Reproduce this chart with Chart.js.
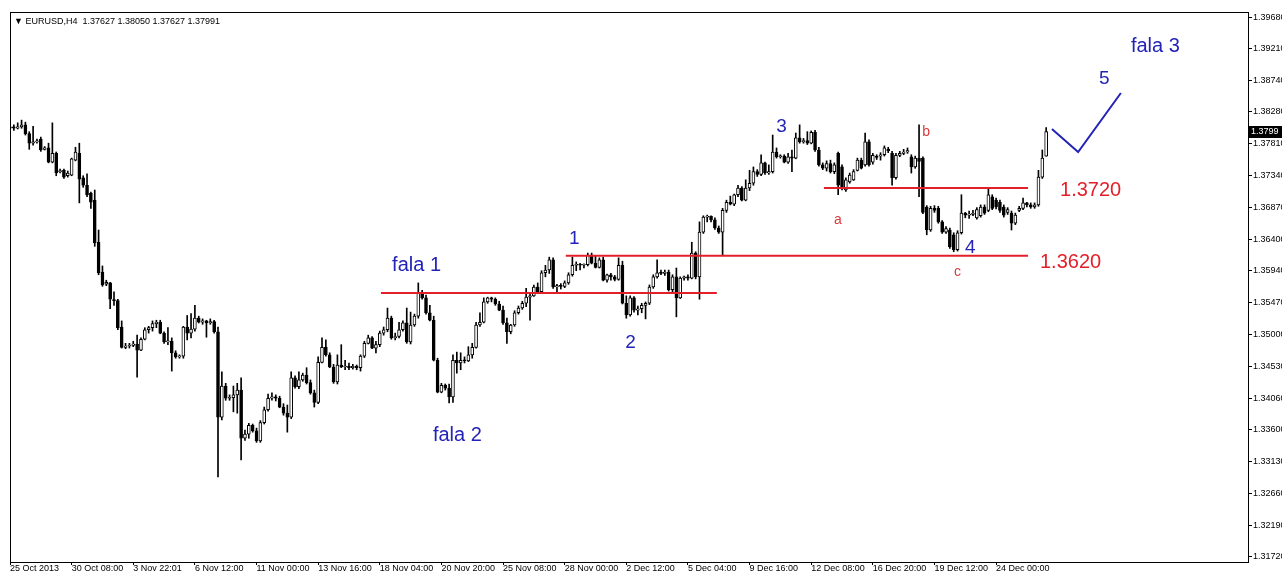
<!DOCTYPE html>
<html>
<head>
<meta charset="utf-8">
<script src="https://cdn.jsdelivr.net/npm/chart.js@4.4.1/dist/chart.umd.min.js"></script>
<style>
  html, body { margin: 0; padding: 0; background: #fff; overflow: hidden; }
  #wrap { width: 1282px; height: 573px; }
</style>
</head>
<body>
<div id="wrap"><canvas id="grafico" width="1282" height="573"></canvas></div>
<script>
// EURUSD H4, 25 Oct - 24 Dec 2013
const opens = [
  1.3804,1.3806,1.3804,1.3806,1.3809,1.3796,1.3782,1.3784,1.3788,1.3773,
  1.3775,1.3754,1.3767,1.3740,1.3742,1.3734,1.3735,1.3757,1.3767,1.3731,
  1.3720,1.3708,1.3698,1.3636,1.3592,1.3574,1.3576,1.3551,1.3550,1.3511,
  1.3481,1.3483,1.3484,1.3486,1.3477,1.3493,1.3507,1.3510,1.3516,1.3518,
  1.3502,1.3489,1.3490,1.3473,1.3467,1.3468,1.3511,1.3502,1.3508,1.3524,
  1.3518,1.3520,1.3517,1.3519,1.3504,1.3378,1.3424,1.3406,1.3407,1.3411,
  1.3418,1.3347,1.3353,1.3366,1.3358,1.3343,1.3370,1.3389,1.3406,1.3408,
  1.3406,1.3393,1.3384,1.3378,1.3436,1.3423,1.3433,1.3440,1.3429,1.3414,
  1.3400,1.3459,1.3481,1.3470,1.3452,1.3430,1.3455,1.3452,1.3453,1.3451,
  1.3453,1.3451,1.3468,1.3487,1.3495,1.3480,1.3485,1.3502,1.3507,1.3524,
  1.3495,1.3497,1.3507,1.3517,1.3489,1.3514,1.3527,1.3561,1.3554,1.3532,
  1.3521,1.3462,1.3415,1.3425,1.3421,1.3408,1.3462,1.3458,1.3462,1.3461,
  1.3470,1.3481,1.3514,1.3518,1.3548,1.3554,1.3552,1.3545,1.3536,1.3517,
  1.3504,1.3514,1.3532,1.3539,1.3546,1.3555,1.3557,1.3570,1.3563,1.3591,
  1.3595,1.3610,1.3570,1.3572,1.3571,1.3576,1.3588,1.3602,1.3603,1.3602,
  1.3603,1.3617,1.3605,1.3599,1.3610,1.3580,1.3588,1.3585,1.3581,1.3602,
  1.3546,1.3529,1.3554,1.3536,1.3538,1.3543,1.3546,1.3570,1.3585,1.3591,
  1.3590,1.3592,1.3566,1.3585,1.3554,1.3583,1.3585,1.3583,1.3620,1.3585,
  1.3651,1.3673,1.3674,1.3669,1.3657,1.3651,1.3683,1.3695,1.3692,1.3706,
  1.3716,1.3698,1.3716,1.3723,1.3740,1.3736,1.3753,1.3738,1.3740,1.3769,
  1.3762,1.3763,1.3754,1.3762,1.3760,1.3790,1.3784,1.3786,1.3782,1.3798,
  1.3772,1.3750,1.3745,1.3752,1.3740,1.3767,1.3747,1.3713,1.3725,1.3728,
  1.3742,1.3757,1.3750,1.3784,1.3754,1.3762,1.3763,1.3765,1.3773,1.3767,
  1.3731,1.3764,1.3767,1.3769,1.3762,1.3747,1.3760,1.3760,1.3688,1.3654,
  1.3686,1.3686,1.3666,1.3651,1.3654,1.3647,1.3625,1.3650,1.3679,1.3676,
  1.3677,1.3672,1.3675,1.3688,1.3683,1.3703,1.3698,1.3695,1.3688,1.3680,
  1.3679,1.3664,1.3683,1.3686,1.3694,1.3691,1.3688,1.3691,1.3732,1.37627
];
const highs = [
  1.3810,1.3809,1.3812,1.3816,1.3813,1.3799,1.3807,1.3788,1.3791,1.3777,
  1.3782,1.3812,1.3769,1.3744,1.3744,1.3741,1.3760,1.3776,1.3782,1.3734,
  1.3737,1.3710,1.3713,1.3654,1.3601,1.3580,1.3577,1.3563,1.3552,1.3520,
  1.3487,1.3487,1.3490,1.3499,1.3495,1.3510,1.3512,1.3520,1.3521,1.3521,
  1.3504,1.3510,1.3495,1.3476,1.3470,1.3512,1.3528,1.3531,1.3543,1.3527,
  1.3523,1.3521,1.3523,1.3521,1.3511,1.3445,1.3428,1.3411,1.3424,1.3428,
  1.3436,1.3359,1.3369,1.3368,1.3362,1.3373,1.3393,1.3412,1.3414,1.3411,
  1.3409,1.3398,1.3396,1.3445,1.3439,1.3445,1.3443,1.3451,1.3433,1.3418,
  1.3467,1.3495,1.3492,1.3473,1.3456,1.3470,1.3485,1.3462,1.3458,1.3456,
  1.3455,1.3470,1.3490,1.3499,1.3497,1.3490,1.3505,1.3511,1.3539,1.3527,
  1.3502,1.3518,1.3520,1.3539,1.3533,1.3530,1.3576,1.3565,1.3558,1.3543,
  1.3527,1.3465,1.3428,1.3427,1.3427,1.3470,1.3474,1.3473,1.3467,1.3482,
  1.3487,1.3518,1.3532,1.3554,1.3555,1.3555,1.3554,1.3549,1.3542,1.3524,
  1.3515,1.3535,1.3542,1.3549,1.3568,1.3560,1.3573,1.3576,1.3594,1.3602,
  1.3614,1.3613,1.3574,1.3575,1.3579,1.3591,1.3614,1.3607,1.3605,1.3604,
  1.3620,1.3620,1.3616,1.3613,1.3614,1.3589,1.3590,1.3587,1.3613,1.3608,
  1.3557,1.3557,1.3556,1.3542,1.3546,1.3548,1.3573,1.3588,1.3610,1.3595,
  1.3595,1.3595,1.3588,1.3598,1.3585,1.3586,1.3588,1.3636,1.3622,1.3666,
  1.3675,1.3676,1.3675,1.3672,1.3660,1.3686,1.3698,1.3704,1.3707,1.3720,
  1.3718,1.3728,1.3742,1.3747,1.3743,1.3765,1.3754,1.3750,1.3794,1.3775,
  1.3765,1.3765,1.3767,1.3772,1.3797,1.3809,1.3789,1.3799,1.3800,1.3801,
  1.3776,1.3753,1.3756,1.3757,1.3753,1.3769,1.3750,1.3731,1.3738,1.3743,
  1.3760,1.3760,1.3797,1.3787,1.3767,1.3765,1.3768,1.3778,1.3776,1.3770,
  1.3767,1.3770,1.3773,1.3775,1.3765,1.3763,1.3809,1.3762,1.3690,1.3689,
  1.3690,1.3689,1.3668,1.3659,1.3657,1.3650,1.3653,1.3706,1.3680,1.3682,
  1.3683,1.3687,1.3691,1.3691,1.3717,1.3706,1.3701,1.3698,1.3691,1.3687,
  1.3682,1.3679,1.3689,1.3701,1.3695,1.3694,1.3694,1.3742,1.3772,1.38050
];
const lows = [
  1.3801,1.3801,1.3803,1.3804,1.3794,1.3773,1.3779,1.3782,1.3770,1.3772,
  1.3753,1.3753,1.3734,1.3738,1.3730,1.3732,1.3734,1.3756,1.3694,1.3717,
  1.3703,1.3686,1.3630,1.3588,1.3571,1.3572,1.3538,1.3543,1.3507,1.3480,
  1.3479,1.3480,1.3482,1.3437,1.3476,1.3492,1.3502,1.3505,1.3510,1.3501,
  1.3487,1.3485,1.3446,1.3465,1.3465,1.3465,1.3492,1.3495,1.3505,1.3517,
  1.3515,1.3496,1.3515,1.3502,1.3290,1.3374,1.3403,1.3403,1.3386,1.3384,
  1.3315,1.3344,1.3347,1.3356,1.3341,1.3341,1.3368,1.3387,1.3403,1.3402,
  1.3392,1.3381,1.3356,1.3376,1.3421,1.3420,1.3431,1.3427,1.3412,1.3393,
  1.3398,1.3458,1.3468,1.3451,1.3428,1.3427,1.3451,1.3448,1.3448,1.3449,
  1.3448,1.3446,1.3466,1.3486,1.3479,1.3473,1.3482,1.3499,1.3504,1.3493,
  1.3492,1.3495,1.3505,1.3487,1.3486,1.3512,1.3524,1.3552,1.3530,1.3520,
  1.3461,1.3414,1.3414,1.3418,1.3399,1.3400,1.3443,1.3448,1.3458,1.3460,
  1.3465,1.3480,1.3512,1.3517,1.3546,1.3548,1.3543,1.3535,1.3515,1.3487,
  1.3501,1.3512,1.3530,1.3537,1.3541,1.3521,1.3556,1.3561,1.3561,1.3585,
  1.3590,1.3568,1.3561,1.3567,1.3569,1.3574,1.3586,1.3594,1.3595,1.3598,
  1.3601,1.3604,1.3598,1.3598,1.3579,1.3577,1.3580,1.3579,1.3580,1.3545,
  1.3524,1.3527,1.3533,1.3529,1.3532,1.3523,1.3544,1.3568,1.3583,1.3588,
  1.3587,1.3564,1.3563,1.3526,1.3553,1.3580,1.3580,1.3582,1.3582,1.3552,
  1.3649,1.3666,1.3666,1.3655,1.3649,1.3617,1.3680,1.3691,1.3690,1.3703,
  1.3697,1.3697,1.3712,1.3720,1.3733,1.3734,1.3736,1.3736,1.3738,1.3760,
  1.3760,1.3753,1.3752,1.3740,1.3759,1.3782,1.3782,1.3780,1.3781,1.3770,
  1.3748,1.3743,1.3741,1.3738,1.3737,1.3706,1.3713,1.3711,1.3723,1.3727,
  1.3741,1.3744,1.3748,1.3748,1.3751,1.3758,1.3757,1.3763,1.3768,1.3720,
  1.3729,1.3762,1.3765,1.3767,1.3738,1.3745,1.3703,1.3678,1.3647,1.3652,
  1.3680,1.3664,1.3649,1.3649,1.3627,1.3622,1.3623,1.3648,1.3672,1.3671,
  1.3675,1.3670,1.3673,1.3677,1.3681,1.3684,1.3685,1.3680,1.3673,1.3677,
  1.3654,1.3662,1.3681,1.3684,1.3688,1.3686,1.3686,1.3689,1.3730,1.37627
];
const closes = [
  1.3806,1.3804,1.3806,1.3809,1.3796,1.3782,1.3784,1.3785,1.3772,1.3775,
  1.3754,1.3767,1.3738,1.3741,1.3732,1.3738,1.3759,1.3769,1.3729,1.3720,
  1.3706,1.3695,1.3635,1.3591,1.3573,1.3577,1.3552,1.3550,1.3510,1.3481,
  1.3483,1.3484,1.3486,1.3477,1.3493,1.3507,1.3510,1.3516,1.3518,1.3502,
  1.3489,1.3490,1.3473,1.3467,1.3468,1.3511,1.3502,1.3508,1.3524,1.3518,
  1.3520,1.3517,1.3519,1.3504,1.3378,1.3424,1.3406,1.3407,1.3411,1.3418,
  1.3347,1.3353,1.3366,1.3358,1.3343,1.3370,1.3389,1.3406,1.3408,1.3406,
  1.3393,1.3384,1.3378,1.3436,1.3423,1.3433,1.3440,1.3429,1.3414,1.3400,
  1.3459,1.3481,1.3470,1.3452,1.3430,1.3455,1.3452,1.3453,1.3451,1.3453,
  1.3451,1.3468,1.3487,1.3495,1.3480,1.3485,1.3502,1.3507,1.3524,1.3495,
  1.3497,1.3507,1.3517,1.3489,1.3514,1.3527,1.3561,1.3554,1.3532,1.3521,
  1.3462,1.3415,1.3425,1.3421,1.3408,1.3462,1.3458,1.3462,1.3461,1.3470,
  1.3481,1.3514,1.3518,1.3548,1.3554,1.3552,1.3545,1.3536,1.3517,1.3504,
  1.3514,1.3532,1.3539,1.3546,1.3555,1.3557,1.3570,1.3563,1.3591,1.3595,
  1.3610,1.3570,1.3572,1.3571,1.3576,1.3588,1.3602,1.3603,1.3602,1.3603,
  1.3617,1.3605,1.3599,1.3610,1.3580,1.3588,1.3585,1.3581,1.3602,1.3546,
  1.3529,1.3554,1.3536,1.3538,1.3543,1.3546,1.3570,1.3585,1.3591,1.3590,
  1.3592,1.3566,1.3585,1.3554,1.3583,1.3585,1.3583,1.3620,1.3585,1.3651,
  1.3673,1.3674,1.3669,1.3657,1.3651,1.3683,1.3695,1.3692,1.3706,1.3716,
  1.3698,1.3716,1.3723,1.3740,1.3736,1.3753,1.3738,1.3740,1.3769,1.3762,
  1.3763,1.3754,1.3762,1.3760,1.3790,1.3784,1.3786,1.3782,1.3798,1.3772,
  1.3750,1.3745,1.3752,1.3740,1.3750,1.3720,1.3716,1.3728,1.3735,1.3740,
  1.3757,1.3745,1.3784,1.3750,1.3764,1.3761,1.3765,1.3775,1.3771,1.3731,
  1.3764,1.3767,1.3769,1.3771,1.3747,1.3760,1.3755,1.3680,1.3654,1.3686,
  1.3683,1.3666,1.3651,1.3656,1.3629,1.3625,1.3650,1.3679,1.3676,1.3677,
  1.3679,1.3684,1.3688,1.3679,1.3706,1.3686,1.3688,1.3683,1.3676,1.3684,
  1.3664,1.3676,1.3686,1.3694,1.3691,1.3688,1.3691,1.3732,1.3760,1.37991
];

// osie
const yTicks = [1.3968,1.3921,1.3874,1.3828,1.3781,1.3734,1.3687,1.3640,1.3594,
                1.3547,1.3500,1.3453,1.3406,1.3360,1.3313,1.3266,1.3219,1.3172];
const xTickIdx = [0,16,32,48,64,80,96,112,128,144,160,176,192,208,224,240,256];
const xTickLabels = ['25 Oct 2013','30 Oct 08:00','3 Nov 22:01','6 Nov 12:00','11 Nov 00:00',
  '13 Nov 16:00','18 Nov 04:00','20 Nov 20:00','25 Nov 08:00','28 Nov 00:00','2 Dec 12:00',
  '5 Dec 04:00','9 Dec 16:00','12 Dec 08:00','16 Dec 20:00','19 Dec 12:00','24 Dec 00:00'];

// linie poziomow (indeks swiecy od-do, cena)
const levelFrom  = [96.3, 144.3, 211.3];
const levelTo    = [183.5, 264.3, 264.3];
const levelPrice = [1.3561, 1.3616, 1.3716];

// szkic fali 5
const waveIdx   = [270.5, 277.3, 288.4];
const wavePrice = [1.3803, 1.3769, 1.3856];

// opisy fal
const noteTexts = ['fala 1','fala 2','1','2','3','4','5','fala 3','a','b','c','1.3720','1.3620'];
const noteIdx   = [99.2, 109.8, 145.1, 159.7, 198.9, 247.9, 282.7, 291.0, 213.9, 236.8, 245.1, 272.6, 267.4];
const notePrice = [1.3594, 1.3343, 1.3633, 1.3480, 1.3799, 1.3620, 1.3869, 1.3916, 1.3663, 1.3793, 1.3586, 1.3704, 1.3598];
const noteKind  = ['blue','blue','num','num','num','num','num','blue','small','small','small','level','level'];

const AXIS_FONT = { family: 'Liberation Sans, Arial, sans-serif', size: 9 };
const BLUE = '#2323b8';
const RED = '#e3202a';
const noteStyle = {
  blue:  { color: BLUE, font: '20px "Liberation Sans", Arial, sans-serif' },
  num:   { color: BLUE, font: '19px "Liberation Sans", Arial, sans-serif' },
  small: { color: '#d83a3e', font: '14px "Liberation Sans", Arial, sans-serif' },
  level: { color: RED, font: '20px "Liberation Sans", Arial, sans-serif' }
};

const bodies = opens.map((o, i) => ({ x: i, y: [o, closes[i]] }));
const wicks = opens.map((o, i) => ({ x: i, y: [lows[i], highs[i]] }));
const bodyFill = opens.map((o, i) => closes[i] >= o ? '#ffffff' : '#000000');

const levelSets = levelPrice.map((p, k) => ({
  type: 'line',
  data: [{ x: levelFrom[k], y: p }, { x: levelTo[k], y: p }],
  borderColor: RED,
  borderWidth: 2,
  pointRadius: 0,
  order: 1
}));

const waveSet = {
  type: 'line',
  data: waveIdx.map((x, k) => ({ x, y: wavePrice[k] })),
  borderColor: BLUE,
  borderWidth: 2,
  pointRadius: 0,
  order: 1
};

// ramka, naglowek, opisy, etykieta ceny
const rysunki = {
  id: 'rysunki',
  afterDraw(chart) {
    const { ctx, chartArea: a, scales } = chart;
    ctx.save();
    ctx.strokeStyle = '#000';
    ctx.lineWidth = 1;
    ctx.strokeRect(a.left + 0.5, a.top + 0.5, a.right - a.left, a.bottom - a.top);

    ctx.fillStyle = '#000';
    ctx.font = '9px "Liberation Sans", Arial, sans-serif';
    ctx.textBaseline = 'middle';
    ctx.textAlign = 'left';
    ctx.fillText('\u25BC EURUSD,H4  1.37627 1.38050 1.37627 1.37991', a.left + 4, a.top + 10);

    ctx.textBaseline = 'alphabetic';
    noteTexts.forEach((t, k) => {
      const st = noteStyle[noteKind[k]];
      ctx.fillStyle = st.color;
      ctx.font = st.font;
      ctx.fillText(t, scales.x.getPixelForValue(noteIdx[k]), scales.y.getPixelForValue(notePrice[k]));
    });

    const last = closes[closes.length - 1];
    const py = Math.round(scales.y.getPixelForValue(last));
    ctx.fillStyle = '#000';
    ctx.fillRect(a.right + 1, py - 6, chart.width - a.right - 1, 12);
    ctx.fillStyle = '#fff';
    ctx.font = '9px "Liberation Sans", Arial, sans-serif';
    ctx.textBaseline = 'middle';
    ctx.fillText(last.toFixed(4), a.right + 3, py);
    ctx.restore();
  }
};

new Chart(document.getElementById('grafico'), {
  type: 'bar',
  data: {
    datasets: [
      {
        type: 'bar',
        data: wicks,
        backgroundColor: '#000',
        barThickness: 1,
        grouped: false,
        order: 3
      },
      {
        type: 'bar',
        data: bodies,
        backgroundColor: bodyFill,
        borderColor: '#000',
        borderWidth: 1,
        borderSkipped: false,
        barThickness: 3,
        minBarLength: 1,
        grouped: false,
        order: 2
      },
      ...levelSets,
      waveSet
    ]
  },
  options: {
    responsive: false,
    animation: false,
    events: [],
    layout: { padding: { left: 10, top: 12, right: 0, bottom: 0 } },
    plugins: { legend: { display: false }, tooltip: { enabled: false } },
    scales: {
      x: {
        type: 'linear',
        min: 0,
        max: 321.4,
        offset: false,
        grid: { drawOnChartArea: false, drawTicks: true, tickLength: 3, color: '#000', offset: false },
        border: { display: true, color: '#000' },
        ticks: {
          autoSkip: false,
          maxRotation: 0,
          align: 'start',
          padding: -2,
          color: '#000',
          font: AXIS_FONT,
          callback: (v, i) => xTickLabels[i]
        },
        afterBuildTicks: s => { s.ticks = xTickIdx.map(v => ({ value: v })); },
        afterFit: s => { s.height = 11; }
      },
      y: {
        position: 'right',
        min: 1.31646,
        max: 1.39754,
        grid: { drawOnChartArea: false, drawTicks: true, tickLength: 4, color: '#000' },
        border: { display: true, color: '#000' },
        ticks: {
          padding: 1,
          color: '#000',
          font: AXIS_FONT,
          callback: v => v.toFixed(5)
        },
        afterBuildTicks: s => { s.ticks = yTicks.map(v => ({ value: v })); },
        afterFit: s => { s.width = 34; }
      }
    }
  },
  plugins: [rysunki]
});
</script>
</body>
</html>
